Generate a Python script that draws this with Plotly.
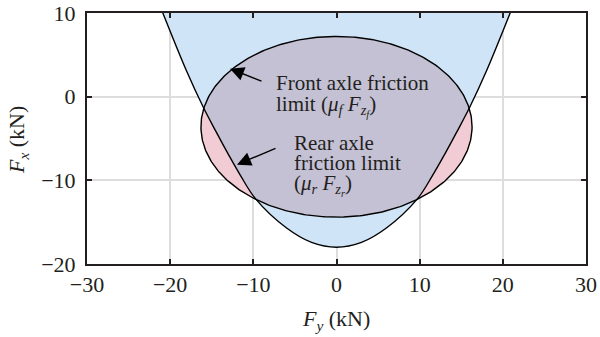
import numpy as np
import plotly.graph_objects as go

# ---- data ----
# front-axle friction limit boundary (Fy, Fx) in kN
front_fy = [-21.0, -18.0, -16.0, -14.5, -13.0, -11.5, -9.7, -6.0, -3.0, 0.0,
            3.0, 6.0, 9.7, 11.5, 13.0, 14.5, 16.0, 18.0, 21.0]
front_fx = [10.3, 3.0, -1.3, -4.15, -6.9, -9.5, -12.25, -15.7, -17.42, -18.0,
            -17.42, -15.7, -12.25, -9.5, -6.9, -4.15, -1.3, 3.0, 10.3]
# rear-axle friction ellipse: centre and semi-axes (kN)
rear_center = (0.0, -3.6)
rear_semi = (16.3, 10.8)

x_ticks = [-30, -20, -10, 0, 10, 20, 30]
y_ticks = [-20, -10, 0, 10]

BLUE = "#cfe5f7"
PINK = "#f2ccd4"
GRAY = "#c5c1d4"
INK = "#231f20"
FONT = "Liberation Serif"

cx, cy = rear_center
a, b = rear_semi

def ell(t):
    t = np.asarray(t)
    return cx + a * np.cos(t), cy + b * np.sin(t)

def ang(px, py):
    return np.arctan2((py - cy) / b, (px - cx) / a)

t_full = np.linspace(0, 2 * np.pi, 361)
ex, ey = ell(t_full)

iUL, iLL, iLR, iUR = 2, 6, 12, 16
tUR = ang(front_fy[iUR], front_fx[iUR])
tUL = ang(front_fy[iUL], front_fx[iUL])
tLL = ang(front_fy[iLL], front_fx[iLL]) % (2 * np.pi)
tLR = ang(front_fy[iLR], front_fx[iLR]) % (2 * np.pi)

ux, uy = ell(np.linspace(tUR, tUL, 200))
lx, ly = ell(np.linspace(tLL, tLR, 200))
gx = list(ux) + front_fy[iUL + 1:iLL] + list(lx) + front_fy[iLR + 1:iUR]
gy = list(uy) + front_fx[iUL + 1:iLL] + list(ly) + front_fx[iLR + 1:iUR]

fig = go.Figure()
fig.add_trace(go.Scatter(x=front_fy, y=front_fx, mode="lines", fill="toself",
                         fillcolor=BLUE, line=dict(width=0, shape="spline"),
                         hoverinfo="skip", showlegend=False))
fig.add_trace(go.Scatter(x=ex, y=ey, mode="lines", fill="toself",
                         fillcolor=PINK, line=dict(width=0),
                         hoverinfo="skip", showlegend=False))
fig.add_trace(go.Scatter(x=gx, y=gy, mode="lines", fill="toself",
                         fillcolor=GRAY, line=dict(width=0),
                         hoverinfo="skip", showlegend=False))
fig.add_trace(go.Scatter(x=ex, y=ey, mode="lines",
                         line=dict(color="black", width=1.4),
                         hoverinfo="skip", showlegend=False))
fig.add_trace(go.Scatter(x=front_fy, y=front_fx, mode="lines",
                         line=dict(color="black", width=1.4, shape="spline"),
                         hoverinfo="skip", showlegend=False))

def px2x(px):
    return (px - 87) / 8.317 - 30

def py2y(py):
    return 10 - (py - 13.3) / 8.37

tf = dict(family=FONT, size=21, color=INK)
ann = []
lines = [
    (274, 83, "Front axle friction"),
    (274, 106, "limit (<i>μ<sub>f</sub> F<sub>z<sub>f</sub></sub></i>)"),
    (292, 143, "Rear axle"),
    (292, 163, "friction limit"),
    (292, 185, "(<i>μ<sub>r</sub> F<sub>z<sub>r</sub></sub></i>)"),
]
for px, py, txt in lines:
    ann.append(dict(x=px2x(px), y=py2y(py), xref="x", yref="y", text=txt,
                    showarrow=False, xanchor="left", yanchor="middle",
                    font=tf, align="left"))
for (tx, ty), (hx, hy) in [((263, 82), (230, 69)), ((277, 148), (237, 165))]:
    ann.append(dict(x=px2x(hx), y=py2y(hy), ax=px2x(tx), ay=py2y(ty),
                    xref="x", yref="y", axref="x", ayref="y", text="",
                    showarrow=True, arrowhead=2, arrowsize=2,
                    arrowwidth=1.4, arrowcolor="black"))

W, H = 600, 337
ml, mr, mt, mb = 87, 14, 13, 73
pw, ph = W - ml - mr, H - mt - mb
ann.append(dict(x=(336 - ml) / pw, y=(H - mb - 320) / ph, xref="paper",
                yref="paper", text="<i>F<sub>y</sub></i> (kN)", showarrow=False,
                xanchor="center", yanchor="middle",
                font=dict(family=FONT, size=22, color=INK)))
ann.append(dict(x=(18 - ml) / pw, y=(H - mb - 140) / ph, xref="paper",
                yref="paper", text="<i>F<sub>x</sub></i> (kN)", showarrow=False,
                xanchor="center", yanchor="middle", textangle=-90,
                font=dict(family=FONT, size=22, color=INK)))

axis_common = dict(showgrid=True, gridcolor="#dddddd", gridwidth=1.5,
                   zeroline=False, showline=True, linecolor=INK,
                   linewidth=2, mirror="allticks", ticks="inside",
                   ticklen=5, tickwidth=2, tickcolor=INK, automargin=False,
                   tickfont=dict(family=FONT, size=22, color=INK))

fig.update_layout(
    width=W, height=H,
    margin=dict(l=ml, r=mr, t=mt, b=mb),
    paper_bgcolor="white", plot_bgcolor="white",
    annotations=ann,
    xaxis=dict(range=[-30, 30], tickvals=x_ticks, **axis_common),
    yaxis=dict(range=[-20, 10], tickvals=y_ticks, ticklabelstandoff=5,
               **axis_common),
)

fig.write_html("out.html")
